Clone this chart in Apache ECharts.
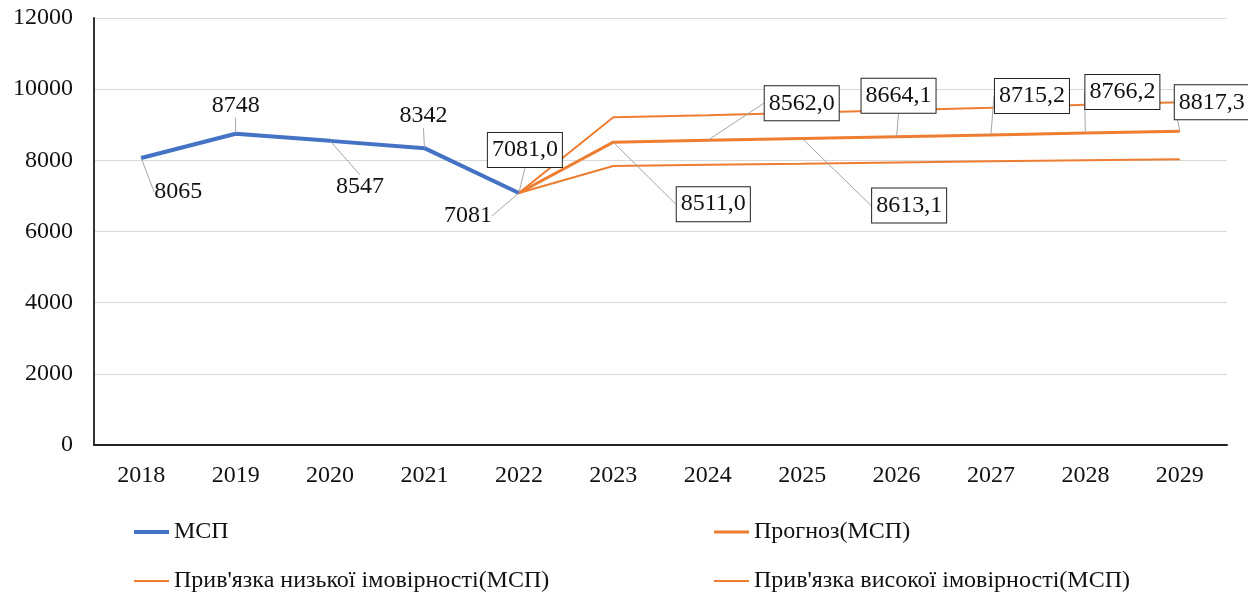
<!DOCTYPE html>
<html>
<head>
<meta charset="utf-8">
<script src="https://cdn.jsdelivr.net/npm/echarts@6/dist/echarts.min.js"></script>
<style>
    html, body { margin: 0; padding: 0; background: #fff; }
    #chart { width: 1248px; height: 595px; }
</style>
</head>
<body>
<div id="chart"></div>
<script>
    var years = ['2018', '2019', '2020', '2021', '2022', '2023', '2024', '2025', '2026', '2027', '2028', '2029'];
    var mspValues = [8065, 8748, 8547, 8342, 7081, '-', '-', '-', '-', '-', '-', '-'];
    var forecastValues = ['-', '-', '-', '-', 7081.0, 8511.0, 8562.0, 8613.1, 8664.1, 8715.2, 8766.2, 8817.3];
    var lowValues = ['-', '-', '-', '-', 7081, 7841, 7875, 7905, 7940, 7975, 8000, 8030];
    var highValues = ['-', '-', '-', '-', 7081, 9210, 9270, 9340, 9410, 9475, 9560, 9630];
    var yTicks = [0, 2000, 4000, 6000, 8000, 10000, 12000];

    // label shifts from the point (px)
    var mspShift = [[37, 34], [0, -28], [30, 46], [-1, -32], [-51, 23]];
    var forecastShift = {4: [6, -43], 5: [100, 62], 6: [94, -37], 7: [107, 67], 8: [2, -41], 9: [41, -39], 10: [37, -41], 11: [32, -29]};

    var font = "'Times New Roman', 'Liberation Serif', serif";
    var blue = '#4472C4';
    var orange = '#ED7D31';
    var leader = {show: true, lineStyle: {color: '#a6a6a6', width: 1}};

    var dom = document.getElementById('chart');
    var myChart = echarts.init(dom);

    var legendBase = function (name, left, top, h) {
        return {
            data: [name],
            left: left,
            top: top,
            padding: 0,
            icon: 'rect',
            itemWidth: 35,
            itemHeight: h,
            textStyle: {fontFamily: font, fontSize: 24, color: '#111', lineHeight: 28}
        };
    };

    var option = {
        backgroundColor: '#fff',
        animation: false,
        grid: {left: 94, right: 21, top: 18, bottom: 150},
        legend: [
            legendBase('МСП', 134, 518, 4),
            legendBase('Прогноз(МСП)', 714, 518, 3),
            legendBase("Прив'язка низької імовірності(МСП)", 134, 567, 2),
            legendBase("Прив'язка високої імовірності(МСП)", 714, 567, 2)
        ],
        xAxis: {
            type: 'category',
            data: years,
            boundaryGap: true,
            axisLine: {lineStyle: {color: '#222', width: 2}},
            axisTick: {show: false},
            axisLabel: {fontFamily: font, fontSize: 24, color: '#111', margin: 19}
        },
        yAxis: {
            type: 'value',
            min: yTicks[0],
            max: yTicks[yTicks.length - 1],
            interval: yTicks[1] - yTicks[0],
            axisLine: {show: true, lineStyle: {color: '#333', width: 2}},
            axisTick: {show: false},
            splitLine: {lineStyle: {color: '#d9d9d9', width: 1}},
            axisLabel: {
                fontFamily: font, fontSize: 24, color: '#111', margin: 21,
                formatter: function (v) { return String(v); }
            }
        },
        series: [
            {
                name: "Прив'язка низької імовірності(МСП)",
                type: 'line',
                data: lowValues,
                symbol: 'none',
                lineStyle: {color: orange, width: 2},
                itemStyle: {color: orange}
            },
            {
                name: "Прив'язка високої імовірності(МСП)",
                type: 'line',
                data: highValues,
                symbol: 'none',
                lineStyle: {color: orange, width: 2},
                itemStyle: {color: orange}
            },
            {
                name: 'Прогноз(МСП)',
                type: 'line',
                data: forecastValues,
                symbol: 'circle',
                symbolSize: 1,
                showSymbol: true,
                lineStyle: {color: orange, width: 3},
                itemStyle: {color: orange},
                label: {
                    show: true,
                    position: 'inside',
                    fontFamily: font,
                    fontSize: 24,
                    color: '#111',
                    backgroundColor: '#fff',
                    borderColor: '#222',
                    borderWidth: 1,
                    padding: [6, 4, 4, 4],
                    formatter: function (p) {
                        return Number(p.value).toFixed(1).replace('.', ',');
                    }
                },
                labelLine: leader,
                labelLayout: function (p) {
                    var s = forecastShift[p.dataIndex] || [0, 0];
                    return {dx: s[0], dy: s[1]};
                }
            },
            {
                name: 'МСП',
                type: 'line',
                data: mspValues,
                symbol: 'circle',
                symbolSize: 1,
                showSymbol: true,
                lineStyle: {color: blue, width: 4},
                itemStyle: {color: blue},
                label: {
                    show: true,
                    position: 'inside',
                    fontFamily: font,
                    fontSize: 24,
                    color: '#111'
                },
                labelLine: leader,
                labelLayout: function (p) {
                    var s = mspShift[p.dataIndex] || [0, 0];
                    return {dx: s[0], dy: s[1]};
                }
            }
        ]
    };

    if (option && typeof option === 'object') {
        myChart.setOption(option, true);
    }
</script>
</body>
</html>
